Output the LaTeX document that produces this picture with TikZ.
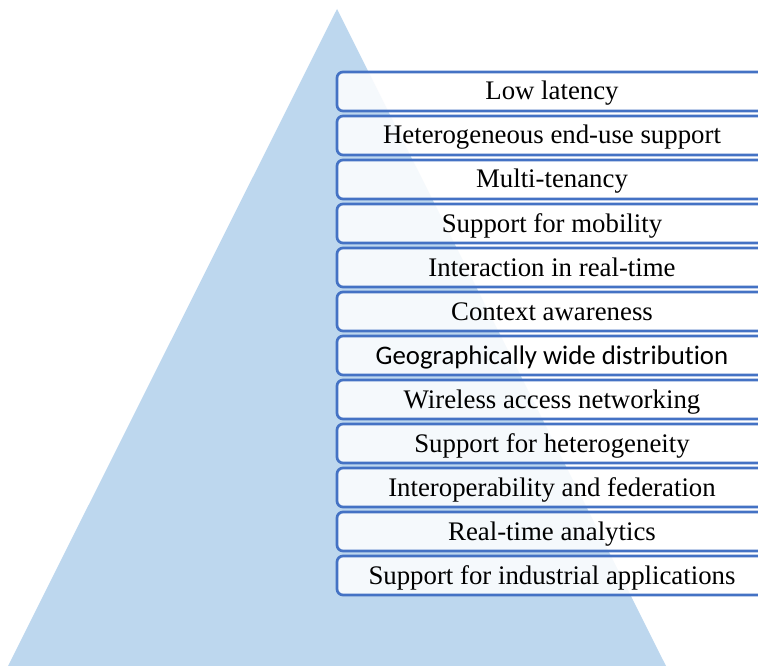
\documentclass[tikz,border=0pt]{standalone}
\usepackage{fontspec}
\setmainfont{Liberation Serif}
\newfontfamily\calibrifont[Ligatures=NoCommon]{Carlito}
\definecolor{tri}{HTML}{BDD7EE}
\definecolor{edge}{HTML}{4472C4}
\begin{document}
\begin{tikzpicture}[x=1pt,y=-1pt,
  featbox/.style={draw=edge, line width=2.7pt, rounded corners=6pt,
    fill=white, fill opacity=0.85, text opacity=1,
    minimum width=430pt, minimum height=39pt, inner sep=0pt,
    text height=19pt, text depth=2pt,
    font=\fontsize{26.8}{30}\selectfont}]
\useasboundingbox (0,0) rectangle (758,666);
\clip (0,0) rectangle (758,666);
\fill[tri] (337,9) -- (8,666) -- (666,666) -- cycle;
\foreach \i/\t in {0/{Low latency},
  1/{Heterogeneous end-use support},
  2/{Multi-tenancy},
  3/{Support for mobility},
  4/{Interaction in real-time},
  5/{Context awareness},
  6/{{\calibrifont\fontsize{26.8}{30}\selectfont Geographically wide distribution}},
  7/{Wireless access networking},
  8/{Support for heterogeneity},
  9/{Interoperability and federation},
  10/{Real-time analytics},
  11/{Support for industrial applications}}
{
  \node[featbox] (b\i) at (552,{91.5+44*\i}) {\t};
}
\end{tikzpicture}
\end{document}
